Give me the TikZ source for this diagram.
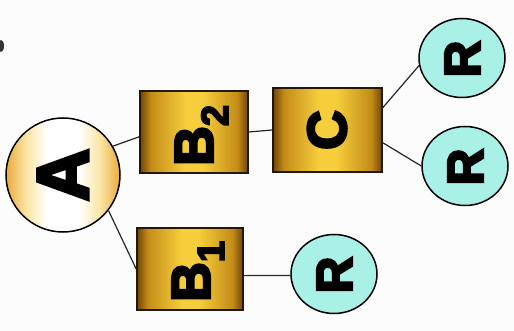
\documentclass[tikz,border=0pt]{standalone}
\usepackage{fontspec}
\setmainfont{Liberation Sans}
\newfontfamily\heavyfont[FakeBold=4.5]{Liberation Sans Bold}
\usetikzlibrary{shapes.geometric,calc}
\definecolor{gdark}{HTML}{6E4608}
\definecolor{gmid}{HTML}{C48C18}
\definecolor{glight}{HTML}{F6CE3C}
\definecolor{aedge}{HTML}{EBAA3C}
\definecolor{asoft}{HTML}{FBE6A6}
\definecolor{rcyan}{HTML}{A9F1E7}
\definecolor{edgec}{HTML}{231808}
\pgfdeclarehorizontalshading{goldbar}{100bp}{color(0bp)=(gdark); color(25bp)=(gdark); color(30bp)=(gmid); color(46bp)=(glight); color(54bp)=(glight); color(70bp)=(gmid); color(75bp)=(gdark); color(100bp)=(gdark)}
\pgfdeclarehorizontalshading{aball}{100bp}{color(0bp)=(aedge); color(25bp)=(aedge); color(34bp)=(asoft); color(43bp)=(white); color(57bp)=(white); color(66bp)=(asoft); color(75bp)=(aedge); color(100bp)=(aedge)}
\begin{document}
\begin{tikzpicture}[x=1pt,y=-1pt,
  conn/.style={draw=black!85, line width=1.2pt},
  goldbox/.style={rectangle, draw=edgec, line width=1.6pt, shading=goldbar, inner sep=0pt},
  aballnode/.style={circle, draw=black, line width=1.5pt, shading=aball, minimum size=114pt, inner sep=0pt},
  rball/.style={ellipse, draw=black, line width=1.5pt, fill=rcyan, minimum width=86pt, minimum height=79pt, inner sep=0pt},
  lbl/.style={rotate=90, inner sep=0pt, text=black},
  bigfont/.style={font=\heavyfont\fontsize{73}{73}\selectfont},
  midfont/.style={font=\heavyfont\fontsize{55}{55}\selectfont},
  rfont/.style={font=\heavyfont\fontsize{51}{51}\selectfont}]
\useasboundingbox (0,0) rectangle (514,331);
\fill[white!98!gray] (0,0) rectangle (514,331);
\fill[black!80] (1,46) ellipse [x radius=3pt, y radius=6pt];
% nodes
\node[aballnode] (A) at (63,175) {};
\node[goldbox, minimum width=108pt, minimum height=82pt] (B2) at (194,132) {};
\node[goldbox, minimum width=106pt, minimum height=82pt] (B1) at (190,269) {};
\node[goldbox, minimum width=109pt, minimum height=84pt] (C) at (327.5,130) {};
\node[rball] (R1) at (462,58) {};
\node[rball] (R2) at (465,166) {};
\node[rball] (R3) at (334,274) {};
% labels
\node[lbl, bigfont, anchor=base] (tA) at ($(A.center)+(25,0)$) {A};
\node[lbl, midfont, anchor=base west] (tB2) at ($(B2.center)+(19,34)$) {B\raisebox{-15pt}{\fontsize{38}{38}\selectfont 2}};
\node[lbl, midfont, anchor=base west] (tB1) at ($(B1.center)+(20,33)$) {B\raisebox{-14pt}{\fontsize{38}{38}\selectfont 1}};
\node[lbl, midfont, anchor=base] (tC) at ($(C.center)+(18.5,0)$) {C};
\node[lbl, rfont, anchor=base] (tR1) at ($(R1.center)+(18,1)$) {R};
\node[lbl, rfont, anchor=base] (tR2) at ($(R2.center)+(18,1)$) {R};
\node[lbl, rfont, anchor=base] (tR3) at ($(R3.center)+(18,1)$) {R};
% connectors
\draw[conn] (A.30) -- (B2.185);
\draw[conn] (A.-38) -- (B1.west);
\draw[conn] (B2.east) -- (C.west);
\draw[conn] (B1.-7) -- (R3.182);
\draw[conn] (C.22) -- (R1.190);
\draw[conn] (C.-13) -- (R2.west);
\end{tikzpicture}
\end{document}
